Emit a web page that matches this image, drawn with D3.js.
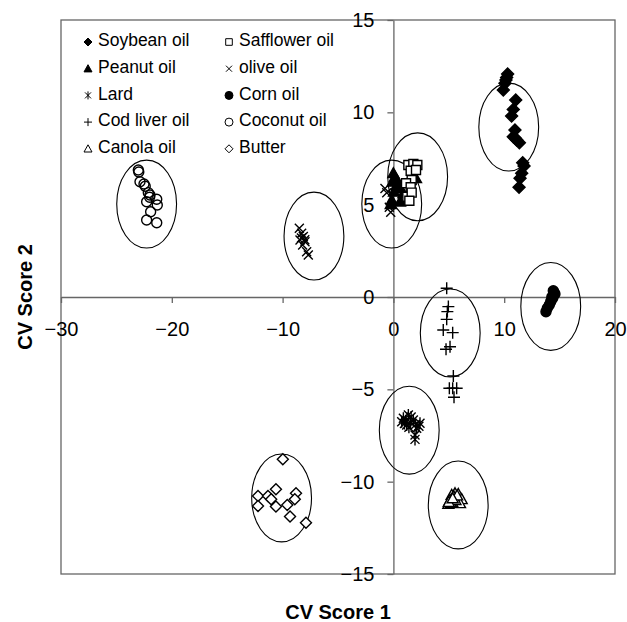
<!DOCTYPE html>
<html lang="en">
<head>
<meta charset="utf-8">
<title>CV scores</title>
<script src="https://cdn.jsdelivr.net/npm/d3@7"></script>
<style>
body { margin: 0; background: #fff; }
svg text { font-family: "Liberation Sans", Arial, sans-serif; fill: #000; }
.axis path, .axis line { stroke: #666; stroke-width: 1.3; }
.axis text { font-size: 20px; }
.title { font-size: 20px; font-weight: bold; }
.legend text { font-size: 17.5px; }
</style>
</head>
<body>
<script>

// canvas
var w = 627, h = 622;
var margin = {left: 61, right: 12, top: 20, bottom: 48};

// axis ticks
var xTicks = [-30, -20, -10, 0, 10, 20];
var yTicks = [-15, -10, -5, 0, 5, 10, 15];

// series values: [CV1, CV2]
var soybean = [[10.31,12.07],[10.22,11.89],[10.16,11.75],[10.07,11.57],[9.92,11.21],[11.04,10.67],
  [10.82,10.16],[10.67,9.8],[10.97,9.04],[10.82,8.68],[11.13,8.5],[11.37,8.35],[11.0,8.6],
  [11.67,7.27],[11.79,7.09],[11.58,6.7],[11.43,6.43],[11.34,5.94]];
var peanut = [[0.0,6.7],[0.14,6.51],[-0.07,6.24],[0.29,6.06],[0.6,5.88],[0.05,5.7],[0.9,5.61],
  [1.2,5.34],[-0.15,5.25],[0.6,5.16],[-0.24,5.03],[0.35,6.3],[2.04,6.43]];
var lard = [[0.9,-6.57],[1.35,-6.39],[1.8,-6.66],[2.4,-6.84],[1.2,-6.93],[2.1,-7.11],[0.75,-6.75],
  [1.55,-6.8],[1.1,-6.7],[1.6,-6.5],[2.0,-6.9],[1.4,-7.05],[2.3,-7.0],[1.0,-6.85],
  [1.95,-7.47],[1.95,-7.71]];
var codLiver = [[4.81,0.47],[4.96,-0.52],[4.87,-0.79],[4.81,-1.21],[4.5,-1.79],[5.35,-1.93],
  [5.11,-2.69],[4.75,-2.83],[5.41,-4.28],[5.05,-4.94],[5.71,-4.94],[5.35,-4.94],[5.47,-5.43]];
var canola = [[5.26,-10.72],[5.56,-10.63],[5.86,-10.67],[5.11,-10.99],[5.41,-11.08],[5.71,-10.95],
  [6.16,-10.95],[4.96,-11.21],[6.01,-11.17],[5.3,-11.1],[5.45,-10.8],[5.2,-11.15],[5.6,-11.0],
  [5.0,-11.1],[5.75,-10.75],[5.35,-10.9]];
var safflower = [[1.35,7.15],[1.8,7.2],[2.16,7.15],[1.56,6.84],[2.04,6.88],[1.65,6.33],[1.14,6.16],
  [1.56,5.94],[1.26,5.43],[1.65,5.65],[1.44,5.21]];
var olive = [[-8.49,3.72],[-8.28,3.45],[-8.13,3.27],[-8.43,3.09],[-7.98,2.99],[-8.19,2.82],
  [-7.83,2.45],[-7.68,2.27],[-8.3,3.2],[-8.0,3.1],[-0.76,5.88],[-0.6,5.65],[-0.37,4.86],[-0.24,4.59]];
var corn = [[14.43,0.34],[14.5,0.24],[14.58,0.16],[14.3,0.0],[14.38,-0.07],[14.2,-0.25],
  [14.07,-0.43],[13.89,-0.61],[13.77,-0.8]];
var coconut = [[-23.02,6.88],[-22.98,6.77],[-22.87,6.24],[-22.51,6.12],[-22.4,6.0],[-22.12,5.65],
  [-21.97,5.52],[-22.0,5.4],[-22.27,5.16],[-21.36,5.29],[-21.31,4.98],[-21.91,4.62],[-22.27,4.17],[-21.36,4.02]];
var butter = [[-9.98,-8.79],[-10.6,-10.41],[-12.22,-10.77],[-11.32,-10.77],[-11.03,-10.95],[-8.79,-10.63],
  [-8.9,-10.95],[-10.6,-11.35],[-9.58,-11.26],[-12.22,-11.32],[-9.33,-11.89],[-7.89,-12.22]];

// group ellipses: centre x, centre y, radius x, radius y (CV units)
var groupEllipses = [[-22.27,5.03,2.7,2.38],[-7.17,3.3,2.7,2.38],[-0.15,5.03,2.7,2.38],
  [2.19,6.51,2.7,2.38],[10.41,9.2,2.7,2.38],[14.2,-0.51,2.7,2.38],[5.13,-1.95,2.7,2.38],
  [1.43,-7.21,2.7,2.38],[5.85,-11.26,2.7,2.38],[-10.09,-10.88,2.7,2.38]];

// legend names, two columns
var names = ["Soybean oil","Peanut oil","Lard","Cod liver oil","Canola oil",
  "Safflower oil","olive oil","Corn oil","Coconut oil","Butter"];

// marker shapes, drawn with a pixel radius r
function shape(kind, r) {
  var p = d3.path();
  if (kind == "diamond") {
    p.moveTo(0,-r); p.lineTo(r,0); p.lineTo(0,r); p.lineTo(-r,0); p.closePath();
  } else if (kind == "triangle") {
    p.moveTo(0,-r); p.lineTo(r,r*0.8); p.lineTo(-r,r*0.8); p.closePath();
  } else if (kind == "square") {
    p.rect(-r,-r,2*r,2*r);
  } else if (kind == "circle") {
    p.arc(0,0,r,0,2*Math.PI);
  } else if (kind == "plus") {
    p.moveTo(-r,0); p.lineTo(r,0); p.moveTo(0,-r); p.lineTo(0,r);
  } else if (kind == "times") {
    var a = r*0.75;
    p.moveTo(-a,-a); p.lineTo(a,a); p.moveTo(-a,a); p.lineTo(a,-a);
  } else if (kind == "asterisk") {
    var b = r*0.75;
    p.moveTo(-b,-b); p.lineTo(b,b); p.moveTo(-b,b); p.lineTo(b,-b);
    p.moveTo(0,-r); p.lineTo(0,r);
  }
  return p.toString();
}

var series = [
  {data: soybean, kind: "diamond", fill: "#000", r: 6},
  {data: peanut, kind: "triangle", fill: "#000", r: 5.5},
  {data: lard, kind: "asterisk", fill: "none", r: 6},
  {data: codLiver, kind: "plus", fill: "none", r: 6},
  {data: canola, kind: "triangle", fill: "#fff", r: 5.5},
  {data: safflower, kind: "square", fill: "#fff", r: 4.5},
  {data: olive, kind: "times", fill: "none", r: 6},
  {data: corn, kind: "circle", fill: "#000", r: 5},
  {data: coconut, kind: "circle", fill: "none", r: 5},
  {data: butter, kind: "diamond", fill: "#fff", r: 5.5}
];

var svg = d3.select("body").append("svg")
  .attr("width", w)
  .attr("height", h);

var x = d3.scaleLinear().domain([-30, 20]).range([margin.left, w - margin.right]);
var y = d3.scaleLinear().domain([-15, 15]).range([h - margin.bottom, margin.top]);

// plot frame
svg.append("rect")
  .attr("x", x(-30)).attr("y", y(15))
  .attr("width", x(20) - x(-30)).attr("height", y(-15) - y(15))
  .style("fill", "none").style("stroke", "#666").style("stroke-width", 1.3);

// axes crossing at 0,0
svg.append("g").attr("class", "axis")
  .attr("transform", "translate(0," + y(0) + ")")
  .call(d3.axisBottom(x).tickValues(xTicks).tickSize(6).tickPadding(19).tickSizeOuter(0));

svg.append("g").attr("class", "axis")
  .attr("transform", "translate(" + x(0) + ",0)")
  .call(d3.axisLeft(y).tickValues(yTicks).tickSize(6).tickPadding(13).tickSizeOuter(0));

svg.selectAll(".axis text").attr("fill", "#000");

// ellipses
svg.selectAll("ellipse")
  .data(groupEllipses)
  .enter()
  .append("ellipse")
  .attr("cx", function(d) { return x(d[0]); })
  .attr("cy", function(d) { return y(d[1]); })
  .attr("rx", function(d) { return x(d[2]) - x(0); })
  .attr("ry", function(d) { return y(0) - y(d[3]); })
  .style("fill", "none").style("stroke", "#000").style("stroke-width", 1.1);

// points
series.forEach(function(s) {
  svg.append("g").selectAll("path")
    .data(s.data)
    .enter()
    .append("path")
    .attr("transform", function(d) { return "translate(" + x(d[0]) + "," + y(d[1]) + ")"; })
    .attr("d", shape(s.kind, s.r))
    .style("fill", s.fill)
    .style("stroke", "#000")
    .style("stroke-width", 1.4);
});

// legend
var legend = svg.append("g").attr("class", "legend");
names.forEach(function(n, i) {
  var col = Math.floor(i / 5), row = i % 5;
  var lx = 88 + col * 141, ly = 40 + row * 26.7;
  var s = series[i];
  legend.append("path")
    .attr("transform", "translate(" + lx + "," + (ly + 2) + ")")
    .attr("d", shape(s.kind, s.kind == "square" ? 3.3 : 4))
    .style("fill", s.fill == "none" && (s.kind == "circle") ? "#fff" : s.fill)
    .style("stroke", "#000").style("stroke-width", 1);
  legend.append("text")
    .attr("x", lx + 10).attr("y", ly)
    .attr("dy", "0.35em")
    .text(n);
});

// axis titles
svg.append("text").attr("class", "title")
  .attr("x", (x(-30) + x(20)) / 2).attr("y", 612)
  .attr("dy", "0.35em")
  .attr("text-anchor", "middle")
  .text("CV Score 1");

svg.append("text").attr("class", "title")
  .attr("transform", "translate(25," + ((y(15) + y(-15)) / 2) + ") rotate(-90)")
  .attr("dy", "0.35em")
  .attr("text-anchor", "middle")
  .text("CV Score 2");

</script>
</body>
</html>
